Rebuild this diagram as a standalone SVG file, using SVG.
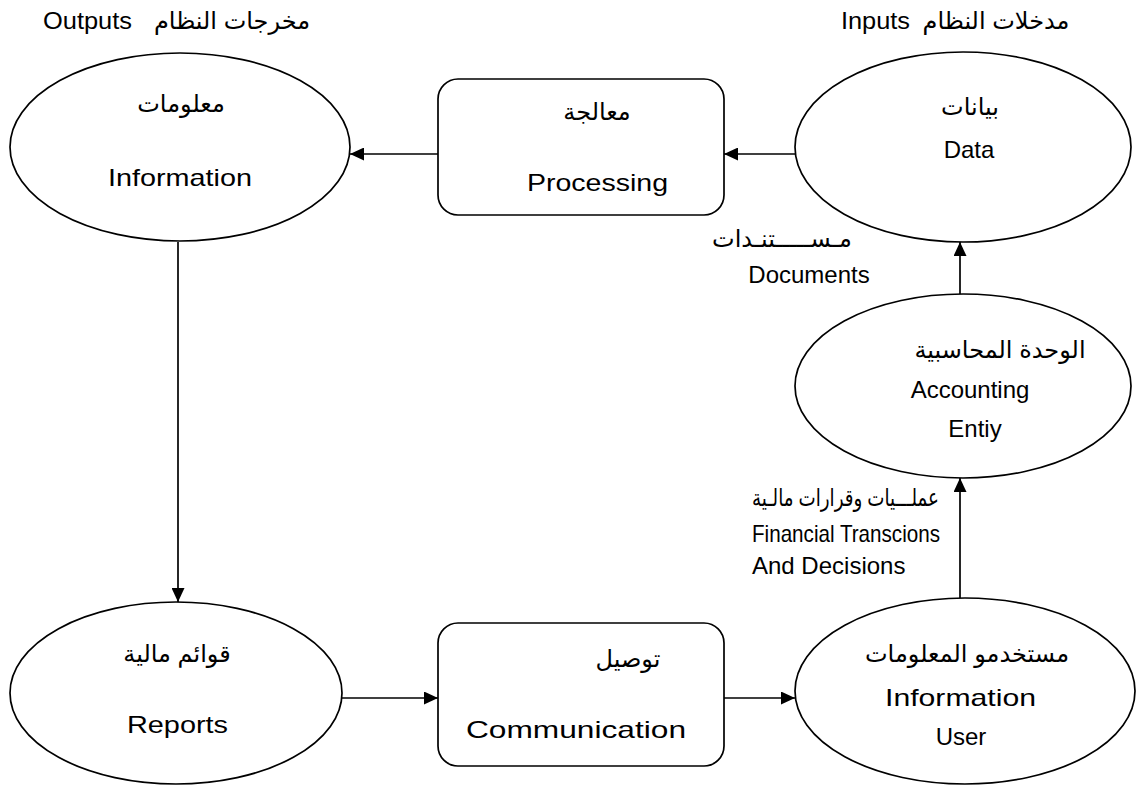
<svg xmlns="http://www.w3.org/2000/svg" width="1146" height="785" viewBox="0 0 1146 785">
  <style>
    .shape { fill: #ffffff; stroke: #000000; stroke-width: 1.7; }
    .link { fill: none; stroke: #000000; stroke-width: 1.7; }
    text { font-family: "Liberation Sans", "DejaVu Sans", Arial, sans-serif; fill: #000000; }
    .en { font-size: 24px; }
    .ar { font-size: 24px; }
  </style>
  <defs>
    <marker id="arrow" markerUnits="userSpaceOnUse" markerWidth="15" markerHeight="13" refX="14" refY="6.5" orient="auto">
      <path d="M0,0 L14,6.5 L0,13 z" fill="#000000"/>
    </marker>
  </defs>

  <rect width="1146" height="785" fill="#ffffff"/>

  <!-- section headings -->
  <g id="heading-outputs">
    <text class="en" x="43" y="29" font-size="22" textLength="89" lengthAdjust="spacingAndGlyphs">Outputs</text>
    <text class="ar" x="232" y="29" text-anchor="middle" font-size="22">مخرجات النظام</text>
  </g>
  <g id="heading-inputs">
    <text class="en" x="841" y="29" font-size="22" textLength="69" lengthAdjust="spacingAndGlyphs">Inputs</text>
    <text class="ar" x="996" y="29" text-anchor="middle" font-size="22">مدخلات النظام</text>
  </g>

  <!-- connectors -->
  <g id="connectors">
    <line class="link" x1="795" y1="154" x2="724" y2="154" marker-end="url(#arrow)"/>
    <line class="link" x1="438" y1="154" x2="350" y2="154" marker-end="url(#arrow)"/>
    <line class="link" x1="178" y1="242" x2="178" y2="602" marker-end="url(#arrow)"/>
    <line class="link" x1="342" y1="698" x2="438" y2="698" marker-end="url(#arrow)"/>
    <line class="link" x1="724" y1="698" x2="795" y2="698" marker-end="url(#arrow)"/>
    <line class="link" x1="960" y1="598" x2="960" y2="478" marker-end="url(#arrow)"/>
    <line class="link" x1="960" y1="294" x2="960" y2="242" marker-end="url(#arrow)"/>
  </g>

  <!-- nodes -->
  <g id="node-information">
    <ellipse class="shape" cx="180" cy="147" rx="170" ry="94"/>
    <text class="ar" x="181" y="112" text-anchor="middle">معلومات</text>
    <text class="en" x="108" y="186" textLength="144" lengthAdjust="spacingAndGlyphs">Information</text>
  </g>

  <g id="node-processing">
    <rect class="shape" x="438" y="79" width="286" height="136" rx="20" ry="20"/>
    <text class="ar" x="597" y="120" text-anchor="middle">معالجة</text>
    <text class="en" x="527" y="191" textLength="141" lengthAdjust="spacingAndGlyphs">Processing</text>
  </g>

  <g id="node-data">
    <ellipse class="shape" cx="963" cy="147" rx="168" ry="95"/>
    <text class="ar" x="970" y="115" text-anchor="middle">بيانات</text>
    <text class="en" x="969" y="158" text-anchor="middle" font-size="25">Data</text>
  </g>

  <g id="label-documents">
    <text class="ar" x="782" y="247" text-anchor="middle">مـســـــتنـدات</text>
    <text class="en" x="809" y="283" text-anchor="middle" font-size="28">Documents</text>
  </g>

  <g id="node-accounting-entity">
    <ellipse class="shape" cx="963" cy="386" rx="168" ry="92"/>
    <text class="ar" x="1000" y="358" text-anchor="middle">الوحدة المحاسبية</text>
    <text class="en" x="970" y="398" text-anchor="middle" font-size="28">Accounting</text>
    <text class="en" x="975" y="437" text-anchor="middle" font-size="28">Entiy</text>
  </g>

  <g id="label-transactions">
    <text class="ar" x="752" y="506" font-size="22" textLength="187" lengthAdjust="spacingAndGlyphs">عملـــيات وقرارات مالـية</text>
    <text class="en" x="752" y="542" font-size="21" textLength="188" lengthAdjust="spacingAndGlyphs">Financial Transcions</text>
    <text class="en" x="752" y="574" font-size="21">And Decisions</text>
  </g>

  <g id="node-reports">
    <ellipse class="shape" cx="176" cy="693" rx="166" ry="91"/>
    <text class="ar" x="177" y="662" text-anchor="middle">قوائم مالية</text>
    <text class="en" x="127" y="733" font-size="25" textLength="101" lengthAdjust="spacingAndGlyphs">Reports</text>
  </g>

  <g id="node-communication">
    <rect class="shape" x="438" y="623" width="286" height="143" rx="20" ry="20"/>
    <text class="ar" x="628" y="667" text-anchor="middle">توصيل</text>
    <text class="en" x="466" y="738" font-size="28" textLength="220" lengthAdjust="spacingAndGlyphs">Communication</text>
  </g>

  <g id="node-information-user">
    <ellipse class="shape" cx="965" cy="691" rx="170" ry="93"/>
    <text class="ar" x="967" y="662" text-anchor="middle">مستخدمو المعلومات</text>
    <text class="en" x="885" y="706" font-size="26" textLength="151" lengthAdjust="spacingAndGlyphs">Information</text>
    <text class="en" x="961" y="745" text-anchor="middle" font-size="25">User</text>
  </g>
</svg>
